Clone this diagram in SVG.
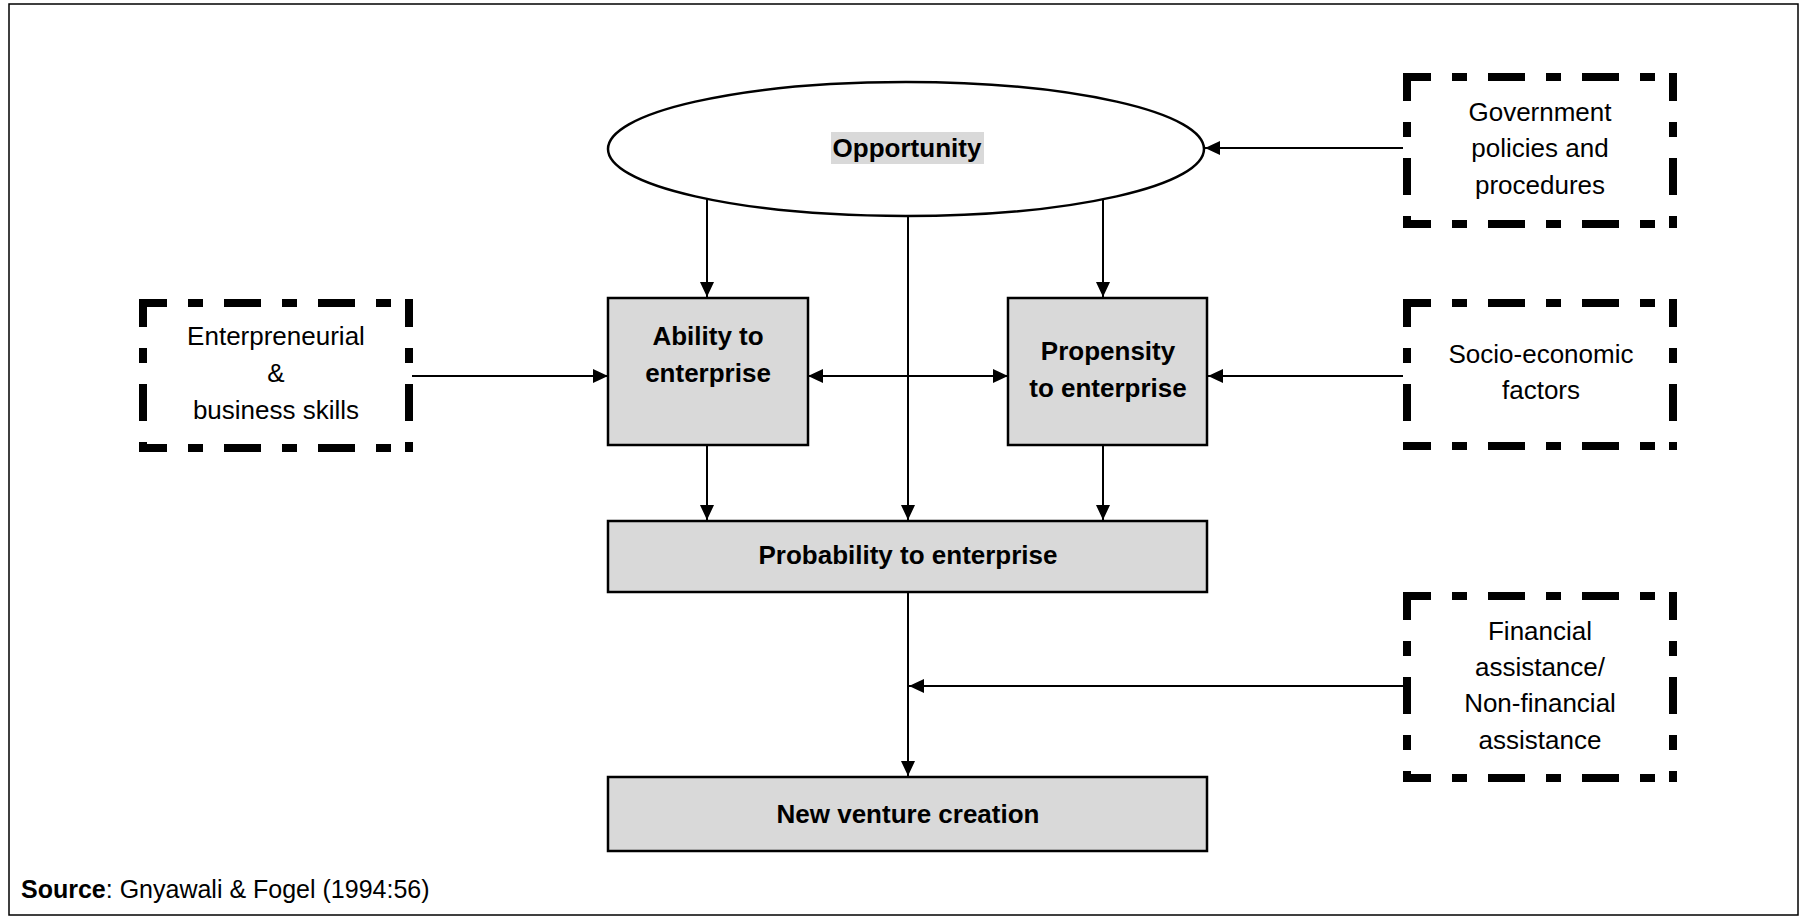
<svg xmlns="http://www.w3.org/2000/svg" width="1800" height="917" viewBox="0 0 1800 917">
<style>
text{font-family:"Liberation Sans",Arial,sans-serif;font-size:26px;fill:#000;text-anchor:middle}
.b{font-weight:bold}
.box{fill:#d9d9d9;stroke:#000;stroke-width:2.5}
.dash{fill:none;stroke:#000;stroke-width:8;stroke-dasharray:37 21 15 21;stroke-dashoffset:9}
.con{fill:none;stroke:#000;stroke-width:2}
</style>
<defs>
<marker id="ah" viewBox="0 0 15 14" refX="15" refY="7" markerWidth="15" markerHeight="14" markerUnits="userSpaceOnUse" orient="auto-start-reverse">
<path d="M0,0 L15,7 L0,14 z" fill="#000"/>
</marker>
</defs>
<rect x="9" y="4" width="1789" height="911" fill="#fff" stroke="#000" stroke-width="1.5"/>

<g id="connectors">
<line class="con" x1="707" y1="199" x2="707" y2="297" marker-end="url(#ah)"/>
<line class="con" x1="1103" y1="199" x2="1103" y2="297" marker-end="url(#ah)"/>
<line class="con" x1="908" y1="216" x2="908" y2="520" marker-end="url(#ah)"/>
<line class="con" x1="1403" y1="148" x2="1205" y2="148" marker-end="url(#ah)"/>
<line class="con" x1="412" y1="376" x2="608" y2="376" marker-end="url(#ah)"/>
<line class="con" x1="808" y1="376" x2="1008" y2="376" marker-start="url(#ah)" marker-end="url(#ah)"/>
<line class="con" x1="1403" y1="376" x2="1208" y2="376" marker-end="url(#ah)"/>
<line class="con" x1="707" y1="445" x2="707" y2="520" marker-end="url(#ah)"/>
<line class="con" x1="1103" y1="445" x2="1103" y2="520" marker-end="url(#ah)"/>
<line class="con" x1="908" y1="592" x2="908" y2="776" marker-end="url(#ah)"/>
<line class="con" x1="1403" y1="686" x2="909" y2="686" marker-end="url(#ah)"/>
</g>

<g id="opportunity">
<ellipse cx="906" cy="149" rx="298" ry="67" fill="#fff" stroke="#000" stroke-width="2.5"/>
<rect x="831" y="132" width="153" height="32" fill="#d9d9d9"/>
<text class="b" x="907" y="157">Opportunity</text>
</g>

<g id="government">
<path class="dash" d="M1403,77 H1677 M1673,73 V228 M1403,224 H1677 M1407,73 V228"/>
<text x="1540" y="121">Government</text>
<text x="1540" y="157">policies and</text>
<text x="1540" y="194">procedures</text>
</g>

<g id="entrepreneurial">
<path class="dash" d="M139,303 H413 M409,299 V452 M139,448 H413 M143,299 V452"/>
<text x="276" y="345">Enterpreneurial</text>
<text x="276" y="382">&amp;</text>
<text x="276" y="419">business skills</text>
</g>

<g id="ability">
<rect class="box" x="608" y="298" width="200" height="147"/>
<text class="b" x="708" y="345">Ability to</text>
<text class="b" x="708" y="382">enterprise</text>
</g>

<g id="propensity">
<rect class="box" x="1008" y="298" width="199" height="147"/>
<text class="b" x="1108" y="360">Propensity</text>
<text class="b" x="1108" y="397">to enterprise</text>
</g>

<g id="socio">
<path class="dash" d="M1403,303 H1677 M1673,299 V450 M1403,446 H1677 M1407,299 V450"/>
<text x="1541" y="363">Socio-economic</text>
<text x="1541" y="399">factors</text>
</g>

<g id="financial">
<path class="dash" d="M1403,596 H1677 M1673,592 V782 M1403,778 H1677 M1407,592 V782"/>
<text x="1540" y="640">Financial</text>
<text x="1540" y="676">assistance/</text>
<text x="1540" y="712">Non-financial</text>
<text x="1540" y="749">assistance</text>
</g>

<g id="probability">
<rect class="box" x="608" y="521" width="599" height="71"/>
<text class="b" x="908" y="564">Probability to enterprise</text>
</g>

<g id="newventure">
<rect class="box" x="608" y="777" width="599" height="74"/>
<text class="b" x="908" y="823">New venture creation</text>
</g>

<g id="source">
<text x="21" y="898" style="text-anchor:start;font-size:25px"><tspan class="b">Source</tspan>: Gnyawali &amp; Fogel (1994:56)</text>
</g>
</svg>
